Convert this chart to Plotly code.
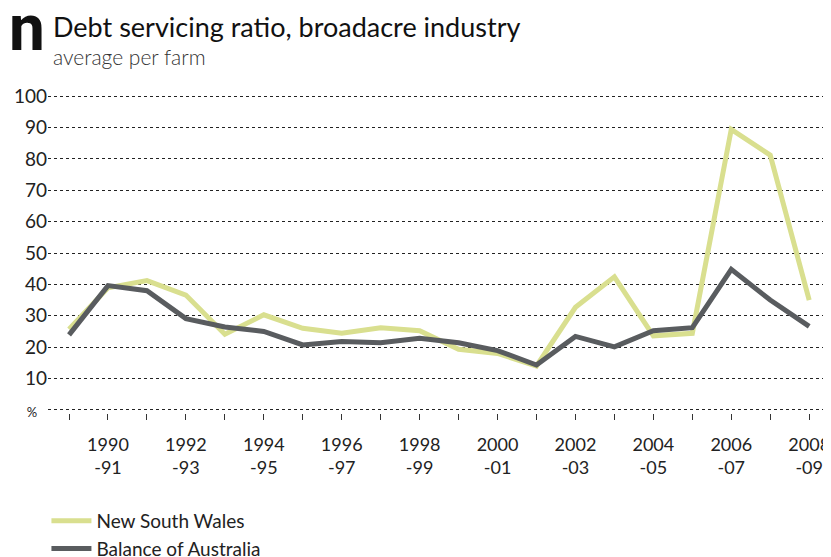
import plotly.graph_objects as go

years = list(range(1989, 2009))
nsw = [25.7, 38.9, 41.2, 36.6, 24.1, 30.3, 26.0, 24.4, 26.2, 25.2,
       19.3, 18.0, 14.0, 32.7, 42.4, 23.6, 24.4, 89.4, 81.2, 35.0]
balance = [23.9, 39.6, 38.0, 29.1, 26.4, 25.0, 20.7, 21.8, 21.4, 22.8,
           21.4, 18.9, 14.3, 23.4, 20.1, 25.2, 26.2, 44.8, 35.0, 26.6]
series_names = ["New South Wales", "Balance of Australia"]
x_ticktext = [f"{y}<br>-{str(y + 1)[-2:]}" if y % 2 == 0 else "" for y in years]
y_tickvals = list(range(0, 101, 10))
y_ticktext = ["<span style='font-size:13px'>%</span>  "] + [str(v) for v in y_tickvals[1:]]

FONT = "Lato"
TXT = "#222222"

fig = go.Figure()
fig.add_trace(go.Scatter(x=years, y=nsw, name=series_names[0], mode="lines",
                         line=dict(color="#d9df8f", width=5)))
fig.add_trace(go.Scatter(x=years, y=balance, name=series_names[1], mode="lines",
                         line=dict(color="#595c5f", width=5)))

# page body adds an 8px offset, so the figure is drawn 8px smaller
fig.update_layout(
    width=823, height=549,
    margin=dict(l=40, r=0, t=85, b=144, autoexpand=False),
    paper_bgcolor="white", plot_bgcolor="white",
    font=dict(family=FONT, color=TXT, size=17),
    showlegend=True,
    legend=dict(x=-0.002, y=-0.278, xanchor="left", yanchor="top",
                font=dict(size=19, color=TXT), tracegroupgap=0,
                itemwidth=40, bgcolor="rgba(0,0,0,0)"),
    xaxis=dict(range=[1988.46, 2008.56], tickmode="array", tickvals=years,
               ticktext=x_ticktext, ticks="outside", ticklen=6, tickwidth=1,
               tickcolor="#333333", showgrid=False, zeroline=False,
               showline=False, ticklabelstandoff=9, automargin=False,
               tickfont=dict(size=18, color=TXT)),
    yaxis=dict(range=[-1, 101], tickmode="array", tickvals=y_tickvals,
               ticktext=y_ticktext, showgrid=True, gridcolor="#222222",
               griddash="dot", gridwidth=1, zeroline=False, showline=False,
               ticks="", ticklabelstandoff=0, automargin=False,
               tickfont=dict(size=19, color=TXT)),
    annotations=[
        dict(text="<b>n</b>", xref="paper", yref="paper", x=-0.052, y=1.078,
             xanchor="left", yanchor="bottom", showarrow=False,
             font=dict(size=64, color="#111111", family="Roboto", weight=900)),
        dict(text="Debt servicing ratio, broadacre industry", xref="paper", yref="paper",
             x=0.004, y=1.15, xanchor="left", yanchor="bottom", showarrow=False,
             font=dict(size=27, color="#111111", family=FONT)),
        dict(text="average per farm", xref="paper", yref="paper",
             x=0.004, y=1.068, xanchor="left", yanchor="bottom", showarrow=False,
             font=dict(size=21, color="#333333", family=FONT, weight=300)),
    ],
)

fig.write_html("out.html")
